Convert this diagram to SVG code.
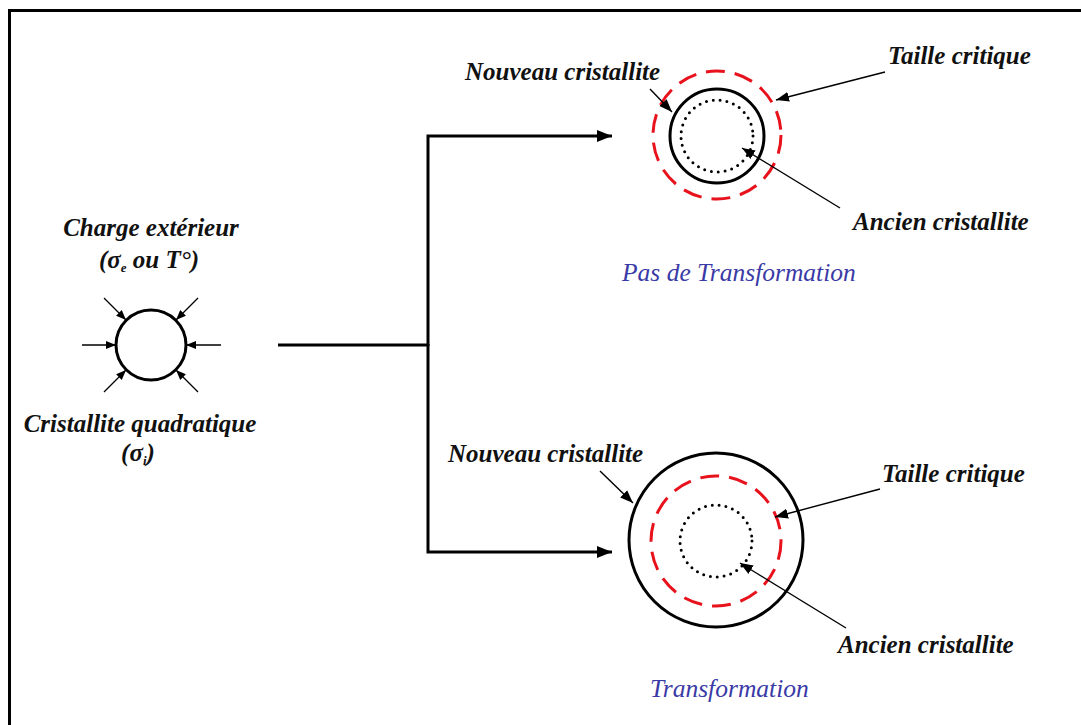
<svg xmlns="http://www.w3.org/2000/svg" width="1081" height="725" viewBox="0 0 1081 725">
<style>
.lbl{font-family:"Liberation Serif","Times New Roman",serif;font-weight:bold;font-style:italic;font-size:25px;fill:#111}
.cap{font-family:"Liberation Serif","Times New Roman",serif;font-style:italic;font-size:25.5px;fill:#3a3aa6}
.solid{fill:none;stroke:#000;stroke-width:3}
.dash{fill:none;stroke:#e8121c;stroke-width:3;stroke-dasharray:19 10}
.dot{fill:none;stroke:#000;stroke-width:3;stroke-linecap:round;stroke-dasharray:0 6.9}
.thick{fill:none;stroke:#000;stroke-width:3}
.thin{fill:none;stroke:#000;stroke-width:1.4}
.small{fill:none;stroke:#000;stroke-width:1.3}
</style>
<defs>
<marker id="ah" markerUnits="userSpaceOnUse" markerWidth="16" markerHeight="14" refX="15" refY="7" orient="auto"><path d="M0,1 L15,7 L0,13 Z" fill="#000"/></marker>
<marker id="at" markerUnits="userSpaceOnUse" markerWidth="14" markerHeight="12" refX="13" refY="6" orient="auto"><path d="M0,1 L13,6 L0,11 Z" fill="#000"/></marker>
<marker id="as" markerUnits="userSpaceOnUse" markerWidth="11" markerHeight="10" refX="10" refY="5" orient="auto"><path d="M0,1 L10,5 L0,9 Z" fill="#000"/></marker>
</defs>
<rect width="1081" height="725" fill="#fff"/>
<path d="M9.5,725 V10.5 H1081" fill="none" stroke="#000" stroke-width="3"/>

<g id="crystal-initial">
<circle class="solid" cx="151" cy="345" r="35"/>
<line class="small" x1="82" y1="345" x2="116" y2="345" marker-end="url(#as)"/>
<line class="small" x1="221" y1="345" x2="186" y2="345" marker-end="url(#as)"/>
<line class="small" x1="104" y1="298" x2="126" y2="320" marker-end="url(#as)"/>
<line class="small" x1="198" y1="298" x2="176" y2="320" marker-end="url(#as)"/>
<line class="small" x1="104" y1="392" x2="126" y2="370" marker-end="url(#as)"/>
<line class="small" x1="198" y1="392" x2="176" y2="370" marker-end="url(#as)"/>
<text class="lbl" x="151" y="236" text-anchor="middle">Charge extérieur</text>
<text class="lbl" x="149" y="268" text-anchor="middle">(σ<tspan font-size="13" dy="4">e</tspan><tspan dy="-4"> ou T°)</tspan></text>
<text class="lbl" x="140" y="432" text-anchor="middle">Cristallite quadratique</text>
<text class="lbl" x="138" y="461" text-anchor="middle">(σ<tspan font-size="13" dy="4">i</tspan><tspan dy="-4">)</tspan></text>
</g>

<g id="connectors">
<path class="thick" d="M278,345 H428"/>
<path class="thick" d="M428,346 V136 H612" marker-end="url(#ah)"/>
<path class="thick" d="M428,344 V552 H612" marker-end="url(#ah)"/>
</g>

<g id="no-transformation">
<circle class="dash" cx="717" cy="135" r="64"/>
<circle class="solid" cx="717" cy="136" r="47"/>
<circle class="dot" cx="717" cy="136" r="36"/>
<line class="thin" x1="650" y1="89" x2="672" y2="112" marker-end="url(#at)"/>
<line class="thin" x1="885" y1="72" x2="776" y2="100" marker-end="url(#at)"/>
<line class="thin" x1="840" y1="208" x2="742" y2="148" marker-end="url(#at)"/>
<text class="lbl" x="465" y="80">Nouveau cristallite</text>
<text class="lbl" x="888" y="64">Taille critique</text>
<text class="lbl" x="853" y="230">Ancien cristallite</text>
<text class="cap" x="622" y="281">Pas de Transformation</text>
</g>

<g id="transformation">
<circle class="solid" cx="716" cy="540" r="87"/>
<circle class="dash" cx="716" cy="541" r="65"/>
<circle class="dot" cx="716" cy="541" r="36"/>
<line class="thin" x1="600" y1="471" x2="633" y2="503" marker-end="url(#at)"/>
<line class="thin" x1="880" y1="489" x2="775" y2="517" marker-end="url(#at)"/>
<line class="thin" x1="846" y1="628" x2="740" y2="563" marker-end="url(#at)"/>
<text class="lbl" x="448" y="462">Nouveau cristallite</text>
<text class="lbl" x="882" y="482">Taille critique</text>
<text class="lbl" x="838" y="653">Ancien cristallite</text>
<text class="cap" x="650" y="697">Transformation</text>
</g>
</svg>
